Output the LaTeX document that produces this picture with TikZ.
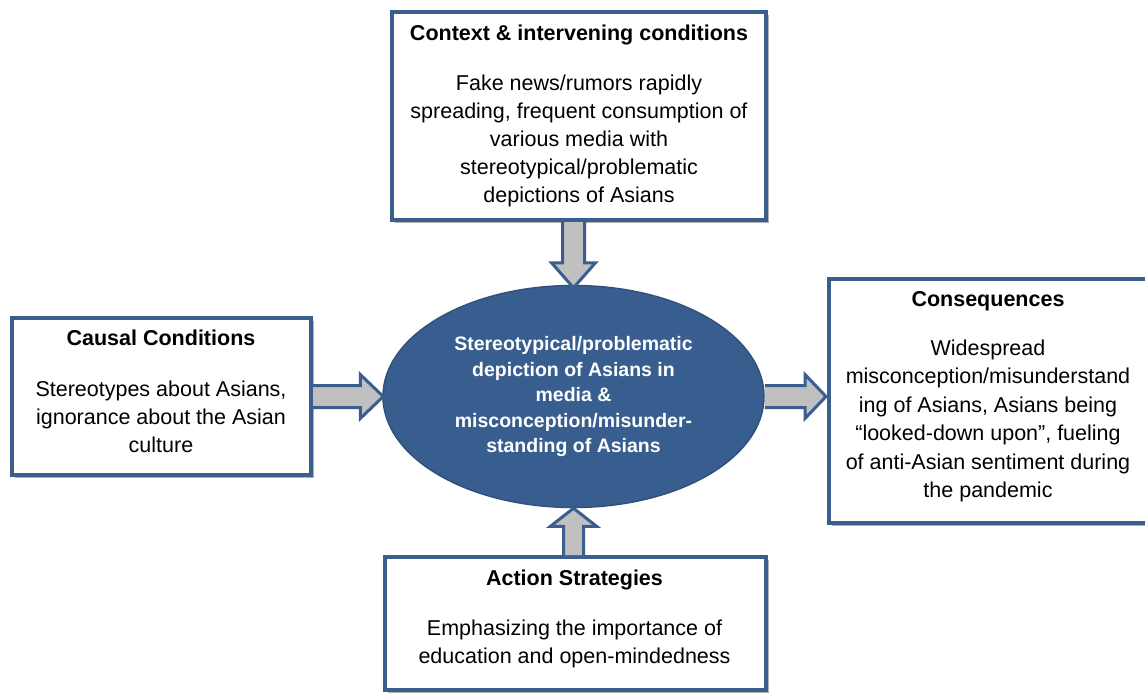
\documentclass[tikz,border=0pt]{standalone}
\usepackage{fontspec}
\setmainfont{Liberation Sans}
\usetikzlibrary{shadows,calc,shapes.geometric}
\definecolor{bblue}{HTML}{3A5F8F}
\definecolor{eblue}{HTML}{385E8F}
\definecolor{agray}{HTML}{C0C0C0}
\begin{document}
\begin{tikzpicture}[x=1pt,y=1pt,
  box/.style={draw=bblue, line width=4pt, fill=white, rectangle, inner sep=0pt,
    drop shadow={shadow xshift=3pt, shadow yshift=-3pt, opacity=0.3, fill=black}},
  txt/.style={align=center, font=\fontsize{21.5}{28}\selectfont, inner sep=0pt},
  core/.style={ellipse, fill=eblue, draw=bblue!85!black, line width=1.5pt, inner sep=0pt,
    text=white, align=center, font=\fontsize{19.5}{25.5}\selectfont\bfseries},
  barrow/.style={draw=bblue, fill=agray, line width=3pt, line join=miter}]
\clip (0,0) rectangle (1145,-695);
\fill[white] (0,0) rectangle (1145,-695);

% boxes
\node[box, minimum width=374pt, minimum height=208pt] (ctxbox) at (579,-116) {};
\node[box, minimum width=299pt, minimum height=157pt] (causebox) at (161.5,-396.5) {};
\node[box, minimum width=318pt, minimum height=244pt] (consbox) at (988,-401) {};
\node[box, minimum width=381pt, minimum height=133pt] (actbox) at (575.5,-623.5) {};

% texts
\node[txt] (ctxtext) at (579,-116) {\textbf{Context \& intervening conditions}\\[22pt]
  Fake news/rumors rapidly\\ spreading, frequent consumption of\\ various media with\\
  stereotypical/problematic\\ depictions of Asians};
\node[txt] (causetext) at (161,-391) {\textbf{Causal Conditions}\\[23pt]
  Stereotypes about Asians,\\ ignorance about the Asian\\ culture};
\node[txt, font=\fontsize{21.5}{28.4}\selectfont] (constext) at (988,-396.5) {\textbf{Consequences}\\[21pt]
  Widespread\\ misconception/misunderstand\\ ing of Asians, Asians being\\
  ``looked-down upon'', fueling\\ of anti-Asian sentiment during\\ the pandemic};
\node[txt] (acttext) at (574.5,-619) {\textbf{Action Strategies}\\[22pt]
  Emphasizing the importance of\\ education and open-mindedness};

% central ellipse
\node[core, minimum width=381pt, minimum height=222pt] (core) at (573.5,-396.5)
  {Stereotypical/problematic\\ depiction of Asians in\\ media \&\\ misconception/misunder-\\ standing of Asians};

% block arrows
\draw[barrow] let \p1=(ctxbox.south), \p2=(core.north) in
  (\x2-11,\y1) -- (\x2-11,\y2+22) -- (\x2-22,\y2+22) -- (\x2,\y2-3)
  -- (\x2+22,\y2+22) -- (\x2+11,\y2+22) -- (\x2+11,\y1);
\draw[barrow] let \p1=(causebox.east), \p2=(core.west) in
  (\x1,\y2+11) -- (\x2-22,\y2+11) -- (\x2-22,\y2+22) -- (\x2+1,\y2)
  -- (\x2-22,\y2-22) -- (\x2-22,\y2-11) -- (\x1,\y2-11);
\draw[barrow] let \p1=(core.east), \p2=(consbox.west) in
  (\x1,\y1+11) -- (\x2-22,\y1+11) -- (\x2-22,\y1+22) -- (\x2-1,\y1)
  -- (\x2-22,\y1-22) -- (\x2-22,\y1-11) -- (\x1,\y1-11);
\draw[barrow] let \p1=(actbox.north), \p2=(core.south) in
  (\x2-10,\y1) -- (\x2-10,\y2-18) -- (\x2-23,\y2-18) -- (\x2,\y2)
  -- (\x2+23,\y2-18) -- (\x2+10,\y2-18) -- (\x2+10,\y1);
\end{tikzpicture}
\end{document}
